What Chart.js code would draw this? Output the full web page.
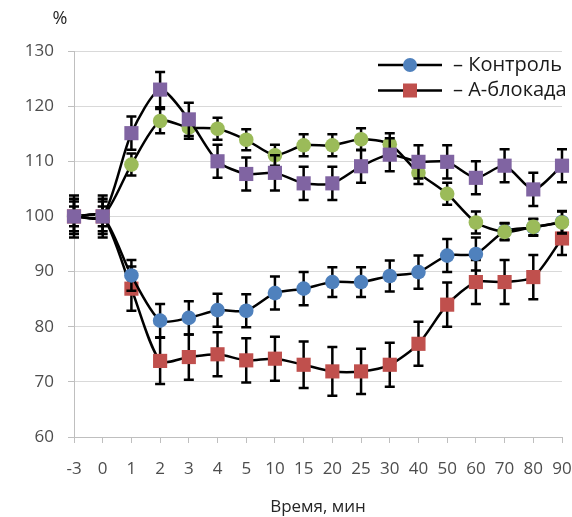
<!DOCTYPE html>
<html>
<head>
<meta charset="utf-8">
<script src="https://cdn.jsdelivr.net/npm/chart.js@4/dist/chart.umd.min.js"></script>
<style>
  html, body { margin: 0; padding: 0; background: #fff; }
  #wrap { width: 572px; height: 517px; }
</style>
</head>
<body>
<div id="wrap"><canvas id="c" width="572" height="517"></canvas></div>
<script>
// Time points, minutes
const categories = ['-3', '0', '1', '2', '3', '4', '5', '10', '15', '20', '25', '30', '40', '50', '60', '70', '80', '90'];

// Контроль (blue circles)
const controlValues = [100, 100, 89.3, 81.1, 81.6, 83.0, 82.9, 86.1, 86.9, 88.1, 88.1, 89.2, 89.9, 92.9, 93.2, 97.3, 98.0, 99.0];
const controlErrors = [2.7, 2.7, 2.8, 3.0, 3.0, 3.0, 3.0, 3.0, 3.0, 2.7, 2.7, 2.8, 3.0, 3.0, 3.0, 1.5, 1.5, 2.0];

// А-блокада (red squares)
const blockadeValues = [100, 100, 86.9, 73.8, 74.5, 75.0, 73.9, 74.2, 73.1, 71.9, 71.9, 73.1, 76.9, 84.0, 88.1, 88.1, 89.0, 96.0];
const blockadeErrors = [3.8, 3.8, 4.0, 4.2, 4.1, 4.0, 4.0, 4.0, 4.2, 4.4, 4.1, 4.0, 4.0, 4.0, 4.0, 4.0, 4.0, 3.0];

// Third group (green circles)
const greenValues = [100, 100, 109.4, 117.3, 116.1, 115.9, 113.9, 111.1, 112.9, 112.9, 114.0, 113.1, 107.9, 104.1, 98.9, 97.2, 98.1, 98.9];
const greenErrors = [1.8, 1.8, 2.0, 2.2, 2.0, 2.0, 1.9, 1.9, 2.0, 2.0, 2.0, 2.0, 2.0, 2.0, 2.0, 1.5, 1.5, 2.0];

// Fourth group (purple squares)
const purpleValues = [100, 100, 115.1, 123.0, 117.6, 110.0, 107.7, 107.9, 106.0, 106.0, 109.1, 111.2, 109.9, 109.9, 107.0, 109.2, 104.9, 109.2];
const purpleErrors = [3.2, 3.2, 3.0, 3.2, 3.0, 3.0, 3.0, 3.2, 3.0, 3.0, 3.0, 3.0, 3.0, 3.0, 3.0, 3.0, 3.0, 3.0];

const yTicks = [60, 70, 80, 90, 100, 110, 120, 130];

const BLUE = '#4F81BD', RED = '#C0504D', GREEN = '#9BBB59', PURPLE = '#8064A2';
const FONT = '"Open Sans", "DejaVu Sans", sans-serif';

function series(label, values, errors, color, style, order) {
  return {
    label, data: values, errors,
    borderColor: '#000', borderWidth: 2.5,
    backgroundColor: color,
    pointStyle: style,
    pointRadius: style === 'rect' ? 10 : 7.3,
    pointBackgroundColor: color,
    pointBorderColor: color,
    pointBorderWidth: 0,
    tension: 0.25,
    order
  };
}

// Vertical error bars with caps, drawn just before each dataset's own line and markers
const errorBars = {
  id: 'errorBars',
  beforeDatasetDraw(chart, args) {
    const ds = chart.data.datasets[args.index];
    if (!ds.errors) return;
    const meta = args.meta;
    const y = chart.scales.y;
    const ctx = chart.ctx;
    ctx.save();
    ctx.strokeStyle = '#000';
    ctx.lineWidth = 2.5;
    ctx.lineCap = 'butt';
    meta.data.forEach((pt, i) => {
      const v = ds.data[i], e = ds.errors[i];
      const yt = y.getPixelForValue(v + e), yb = y.getPixelForValue(v - e);
      const x = pt.x, w = 5;
      ctx.beginPath();
      ctx.moveTo(x, yt); ctx.lineTo(x, yb);
      ctx.moveTo(x - w, yt); ctx.lineTo(x + w, yt);
      ctx.moveTo(x - w, yb); ctx.lineTo(x + w, yb);
      ctx.stroke();
    });
    ctx.restore();
  }
};

// Legend with line-through markers inside the plot, plus the "%" unit label
const legendItems = [
  { text: '– Контроль', color: BLUE, style: 'circle' },
  { text: '– А-блокада', color: RED, style: 'rect' }
];
const decorations = {
  id: 'decorations',
  afterDraw(chart) {
    const ctx = chart.ctx, area = chart.chartArea;
    ctx.save();
    ctx.fillStyle = '#262626';
    ctx.font = '18px ' + FONT;
    ctx.textAlign = 'center';
    ctx.textBaseline = 'middle';
    ctx.fillText('%', 60, 19);

    const x0 = area.right - 184, x1 = area.right - 120, xm = (x0 + x1) / 2;
    legendItems.forEach((it, k) => {
      const yy = area.top + 14 + k * 25.5;
      ctx.strokeStyle = '#000';
      ctx.lineWidth = 2.5;
      ctx.beginPath(); ctx.moveTo(x0, yy); ctx.lineTo(x1, yy); ctx.stroke();
      ctx.fillStyle = it.color;
      if (it.style === 'circle') {
        ctx.beginPath(); ctx.arc(xm, yy, 7, 0, Math.PI * 2); ctx.fill();
      } else {
        ctx.fillRect(xm - 7, yy - 7, 14, 14);
      }
      ctx.fillStyle = '#1a1a1a';
      ctx.font = '20px ' + FONT;
      ctx.textAlign = 'left';
      ctx.fillText(it.text, x1 + 11, yy);
    });
    ctx.restore();
  }
};

new Chart(document.getElementById('c'), {
  type: 'line',
  data: {
    labels: categories,
    datasets: [
      series('Контроль', controlValues, controlErrors, BLUE, 'circle', 3),
      series('А-блокада', blockadeValues, blockadeErrors, RED, 'rect', 4),
      series('Группа 3', greenValues, greenErrors, GREEN, 'circle', 2),
      series('Группа 4', purpleValues, purpleErrors, PURPLE, 'rect', 1)
    ]
  },
  options: {
    responsive: false,
    animation: false,
    devicePixelRatio: 1,
    layout: { padding: { top: 51, right: 6, left: 0, bottom: 0 } },
    plugins: { legend: { display: false }, tooltip: { enabled: false } },
    scales: {
      x: {
        grid: { display: true, drawOnChartArea: false, color: '#bfbfbf', tickLength: 6 },
        border: { color: '#bfbfbf' },
        ticks: { color: '#4d4d4d', font: { family: FONT, size: 17 }, padding: 16, maxRotation: 0, autoSkip: false },
        title: { display: true, text: 'Время, мин', color: '#262626', font: { family: FONT, size: 17 }, padding: { top: 0, bottom: 0 } },
        afterFit(s) { s.height = 80; s.paddingLeft = 0; s.paddingRight = 0; }
      },
      y: {
        min: 60, max: 130,
        afterBuildTicks(s) { s.ticks = yTicks.map(v => ({ value: v })); },
        grid: { color: '#d9d9d9', lineWidth: 1, tickLength: 6, tickColor: '#bfbfbf' },
        border: { color: '#bfbfbf' },
        ticks: { color: '#4d4d4d', font: { family: FONT, size: 17 }, padding: 14 },
        afterFit(s) { s.width = 74; }
      }
    }
  },
  plugins: [errorBars, decorations]
});
</script>
</body>
</html>
